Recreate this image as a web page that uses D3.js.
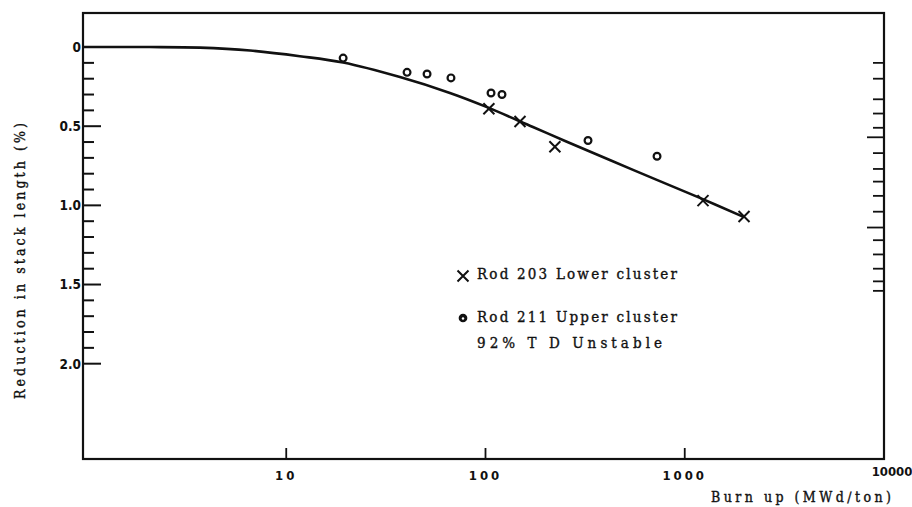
<!DOCTYPE html>
<html>
<head>
<meta charset="utf-8">
<script src="https://cdn.jsdelivr.net/npm/d3@7"></script>
<style>
  html, body { margin: 0; padding: 0; background: #fff; }
  svg { display: block; }
  .type { font-family: "DejaVu Serif Condensed", "DejaVu Serif", "Liberation Serif", serif; fill: #111; stroke: #111; stroke-width: 0.35px; }
  .num { font-family: "DejaVu Sans Condensed", "DejaVu Sans", sans-serif; fill: #111; font-weight: bold; }
</style>
</head>
<body>
<svg id="chart" width="912" height="507"></svg>
<script>
// Rod 203, lower cluster: burn-up (MWd/ton) and stack length reduction (%)
const rod203Burnup = [104, 149, 223, 1235, 1984];
const rod203Reduction = [0.39, 0.47, 0.63, 0.97, 1.07];

// Rod 211, upper cluster (92% TD, unstable)
const rod211Burnup = [19.3, 40.4, 50.9, 67.1, 106.6, 121, 327, 726];
const rod211Reduction = [0.07, 0.16, 0.17, 0.195, 0.29, 0.30, 0.59, 0.69];

// Fitted trend curve
const curveBurnup = [0.96, 2.07, 3.69, 6.58, 11.7, 19.3, 37.2, 66.3, 101, 173, 256, 550, 1191, 1984];
const curveReduction = [0, 0, 0.004, 0.022, 0.058, 0.098, 0.19, 0.29, 0.378, 0.505, 0.598, 0.776, 0.953, 1.074];

// Axis ticks and labels
const xTickValues = [10, 100, 1000];
const xTickLabels = ["10", "100", "1000", "10000"];
const xLabelValues = [10, 100, 1000, 10000];
const yLabelValues = [0, 0.5, 1.0, 1.5, 2.0];
const yLabelText = ["0", "0.5", "1.0", "1.5", "2.0"];
const yTickValues = d3.range(1, 21).map(i => i / 10);
const rightTickValues = [0.1, 0.2, 0.33, 0.42, 0.51, 0.57, 0.67, 0.77, 0.85, 0.94, 1.04, 1.14, 1.22, 1.31, 1.40, 1.48, 1.54];
const rightLongTicks = [0.57, 1.14];

const legendItems = ["Rod 203 Lower cluster", "Rod 211 Upper cluster", "92% T D Unstable"];
const xTitle = "Burn up (MWd\u2215ton)";
const yTitle = "Reduction in stack length (%)";

const svg = d3.select("#chart");
const L = 83, R = 884, T = 13, B = 459;

const x = d3.scaleLog().domain([0.955, 10000]).range([L, R]);
const y = d3.scaleLinear().domain([-0.215, 2.602]).range([T, B]);

// Frame
svg.append("rect")
  .attr("x", L).attr("y", T).attr("width", R - L).attr("height", B - T)
  .attr("fill", "none").attr("stroke", "#111").attr("stroke-width", 2.2);

// Left axis: inward ticks every 0.1, longer every 0.5
svg.append("g").selectAll("line").data(yTickValues).join("line")
  .attr("x1", L).attr("x2", d => L + (Math.abs(d * 2 - Math.round(d * 2)) < 1e-6 ? 18 : 11))
  .attr("y1", d => y(d)).attr("y2", d => y(d))
  .attr("stroke", "#111").attr("stroke-width", 2);

svg.append("g").selectAll("text").data(yLabelValues).join("text")
  .attr("class", "num")
  .attr("x", L - 2).attr("y", d => y(d)).attr("dy", "0.36em")
  .attr("text-anchor", "end").attr("font-size", 13.5)
  .text((d, i) => yLabelText[i]);

// Right axis: inward ticks
svg.append("g").selectAll("line").data(rightTickValues).join("line")
  .attr("x1", R).attr("x2", d => R - (rightLongTicks.includes(d) ? 17 : 11))
  .attr("y1", d => y(d)).attr("y2", d => y(d))
  .attr("stroke", "#111").attr("stroke-width", 1.8);

// Bottom axis: short inward ticks at decades
svg.append("g").selectAll("line").data(xTickValues).join("line")
  .attr("x1", d => x(d)).attr("x2", d => x(d))
  .attr("y1", B).attr("y2", B - 11)
  .attr("stroke", "#111").attr("stroke-width", 1.8);

svg.append("g").selectAll("text").data(xLabelValues).join("text")
  .attr("class", "num")
  .attr("x", d => x(d) + (d === 10000 ? 8 : 0))
  .attr("y", d => d === 10000 ? 476 : 480)
  .attr("text-anchor", "middle")
  .attr("font-size", 13)
  .attr("letter-spacing", d => d === 10000 ? 0 : 3)
  .text((d, i) => xTickLabels[i]);

// Axis titles
svg.append("text").attr("class", "type")
  .attr("x", 891).attr("y", 502).attr("text-anchor", "end")
  .attr("font-size", 14)
  .attr("textLength", 180).attr("lengthAdjust", "spacing")
  .text(xTitle);

svg.append("text").attr("class", "type")
  .attr("transform", "translate(25,261) rotate(-90)")
  .attr("text-anchor", "middle").attr("font-size", 14)
  .attr("textLength", 276).attr("lengthAdjust", "spacing")
  .text(yTitle);

// Trend curve
const curveData = curveBurnup.map((b, i) => [b, curveReduction[i]]);
svg.append("path")
  .datum(curveData)
  .attr("fill", "none").attr("stroke", "#111").attr("stroke-width", 2.6)
  .attr("d", d3.line().x(d => x(d[0])).y(d => y(d[1])).curve(d3.curveCatmullRom.alpha(0.5)));

// Markers
function cross(g, cx, cy, s) {
  g.append("path")
    .attr("d", `M${cx - s},${cy - s}L${cx + s},${cy + s}M${cx + s},${cy - s}L${cx - s},${cy + s}`)
    .attr("stroke", "#111").attr("stroke-width", 2).attr("fill", "none");
}
const crossG = svg.append("g");
rod203Burnup.forEach((b, i) => cross(crossG, x(b), y(rod203Reduction[i]), 5.5));

svg.append("g").selectAll("circle").data(rod211Burnup).join("circle")
  .attr("cx", d => x(d)).attr("cy", (d, i) => y(rod211Reduction[i]))
  .attr("r", 3.4).attr("fill", "#fff").attr("stroke", "#111").attr("stroke-width", 2.2);

// Legend
const lg = svg.append("g");
cross(lg, 463, 276, 5.5);
lg.append("circle").attr("cx", 463).attr("cy", 318).attr("r", 3.6)
  .attr("fill", "#111").attr("stroke", "#111").attr("stroke-width", 1.5);
lg.append("circle").attr("cx", 463).attr("cy", 318.5).attr("r", 1.2).attr("fill", "#fff");

lg.append("text").attr("class", "type").attr("x", 477).attr("y", 279)
  .attr("font-size", 15).attr("textLength", 200).attr("lengthAdjust", "spacing")
  .text(legendItems[0]);
lg.append("text").attr("class", "type").attr("x", 477).attr("y", 322)
  .attr("font-size", 15).attr("textLength", 200).attr("lengthAdjust", "spacing")
  .text(legendItems[1]);
lg.append("text").attr("class", "type").attr("x", 477).attr("y", 348)
  .attr("font-size", 15).attr("textLength", 185).attr("lengthAdjust", "spacing")
  .text(legendItems[2]);
</script>
</body>
</html>
